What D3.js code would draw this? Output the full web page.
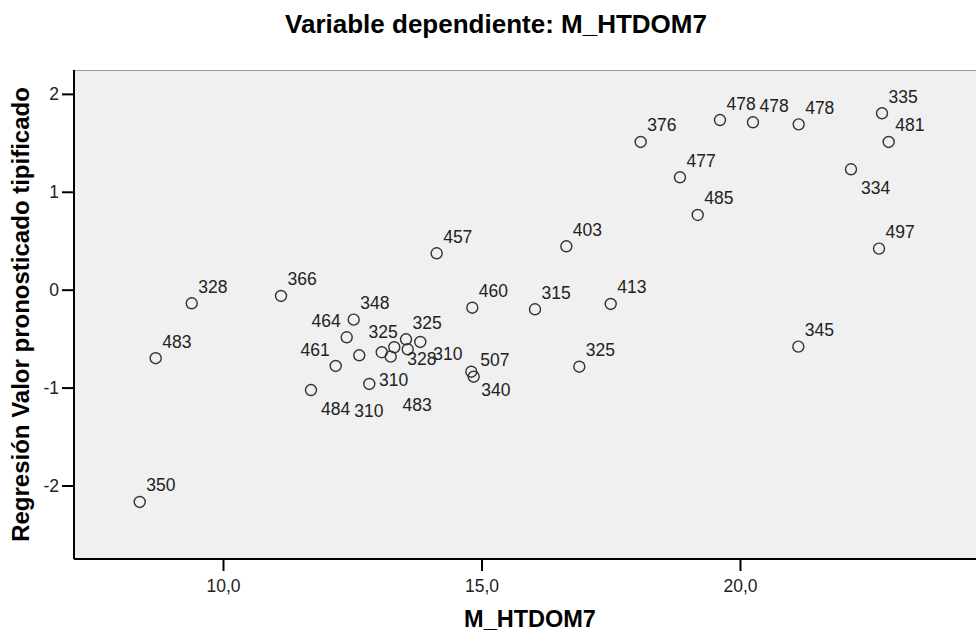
<!DOCTYPE html>
<html>
<head>
  <meta charset="utf-8">
  <script src="https://cdn.jsdelivr.net/npm/d3@7"></script>
  <style>
    body { margin: 0; background: #fff; }
    text { font-family: "Liberation Sans", Arial, sans-serif; }
  </style>
</head>
<body>
  <div id="chart"></div>
  <script type="text/javascript">
  // values
  var xValues = [9.395, 8.698, 8.389, 11.122, 11.702, 12.180, 12.393, 12.528, 14.133, 14.822,
                 16.035, 12.636, 13.070, 13.244, 13.313, 13.540, 13.573, 13.816, 12.830, 14.803,
                 14.849, 16.641, 17.499, 16.892, 18.079, 19.613, 20.251, 21.135, 22.747, 22.876,
                 22.147, 18.839, 19.182, 22.689, 21.128];
  var yValues = [-0.139, -0.700, -2.168, -0.064, -1.025, -0.779, -0.486, -0.306, 0.372, -0.184,
                 -0.200, -0.670, -0.639, -0.684, -0.588, -0.507, -0.609, -0.534, -0.963, -0.838,
                 -0.889, 0.443, -0.146, -0.787, 1.509, 1.733, 1.710, 1.689, 1.802, 1.509,
                 1.230, 1.148, 0.763, 0.419, -0.582];
  var caseLabels = ["328", "483", "350", "366", "484", "461", "464", "348", "457", "460",
                    "315", "310", "325", "310", "328", "325", "483", "310", "", "340",
                    "507", "403", "413", "325", "376", "478", "478", "478", "335", "481",
                    "334", "477", "485", "497", "345"];
  // where SPSS put each label relative to its point
  var labelSide = ["ne", "ne", "ne", "ne", "se", "nw", "nw", "ne", "ne", "ne",
                   "ne", "S", "n", "s", "e", "ne", "S", "e", "", "se",
                   "ne", "ne", "ne", "ne", "ne", "ne", "ne", "ne", "ne", "ne",
                   "se", "ne", "ne", "ne", "ne"];

  var xTicks = [10, 15, 20];
  var xTickLabels = ["10,0", "15,0", "20,0"];
  var yTicks = [-2, -1, 0, 1, 2];
  var yTickLabels = ["-2", "-1", "0", "1", "2"];

  var title = "Variable dependiente: M_HTDOM7";
  var xTitle = "M_HTDOM7";
  var yTitle = "Regresión Valor pronosticado tipificado";

  var width = 979, height = 631;
  var margin = {top: 70, right: 3, bottom: 72, left: 74};
  var w = width - margin.left - margin.right,
      h = height - margin.top - margin.bottom;

  var sides = {
    ne: {dx: 6.5, dy: -10.5, anchor: "start"},
    nw: {dx: -6, dy: -10, anchor: "end"},
    n:  {dx: 1.5, dy: -14.5, anchor: "middle"},
    s:  {dx: 3, dy: 29, anchor: "middle"},
    S:  {dx: 9.5, dy: 62, anchor: "middle"},
    e:  {dx: 13, dy: 18, anchor: "start"},
    se: {dx: 10, dy: 24.5, anchor: "start"}
  };

  var points = xValues.map(function(x, i) {
    return {x: x, y: yValues[i], label: caseLabels[i], side: labelSide[i]};
  });

  var svg = d3.select("#chart").append("svg")
      .attr("width", width)
      .attr("height", height);

  var x = d3.scaleLinear().domain([7.118, 24.565]).range([0, w]);
  var y = d3.scaleLinear().domain([-2.751, 2.244]).range([h, 0]);

  var g = svg.append("g")
      .attr("transform", "translate(" + margin.left + "," + margin.top + ")");

  g.append("rect")
      .attr("width", w)
      .attr("height", h)
      .attr("fill", "#f0f0f0");

  g.append("line")
      .attr("x1", 0).attr("x2", w)
      .attr("y1", 0.5).attr("y2", 0.5)
      .attr("stroke", "#9a9a9a");

  var xAxis = g.append("g")
      .attr("transform", "translate(0," + h + ")")
      .call(d3.axisBottom(x)
        .tickValues(xTicks)
        .tickSize(12)
        .tickPadding(9)
        .tickFormat(function(d, i) { return xTickLabels[i]; }));

  var yAxis = g.append("g")
      .call(d3.axisLeft(y)
        .tickValues(yTicks)
        .tickSize(12)
        .tickPadding(3)
        .tickFormat(function(d, i) { return yTickLabels[i]; }));

  [xAxis, yAxis].forEach(function(a) {
    a.select(".domain").attr("stroke", "#000").attr("stroke-width", 2);
    a.selectAll(".tick line").attr("stroke", "#000").attr("stroke-width", 2);
    a.selectAll(".tick text")
      .attr("fill", "#222")
      .style("font-size", "17.5px")
      .style("font-family", "'Liberation Sans', Arial, sans-serif");
  });
  xAxis.select(".domain").attr("d", "M0,0H" + w);
  yAxis.select(".domain").attr("d", "M0,0V" + h);

  g.selectAll("circle.pt")
      .data(points)
    .enter().append("circle")
      .attr("class", "pt")
      .attr("cx", function(d) { return x(d.x); })
      .attr("cy", function(d) { return y(d.y); })
      .attr("r", 5.5)
      .attr("fill", "none")
      .attr("stroke", "#333")
      .attr("stroke-width", 1.4);

  g.selectAll("text.lbl")
      .data(points.filter(function(d) { return d.label; }))
    .enter().append("text")
      .attr("class", "lbl")
      .attr("x", function(d) { return x(d.x) + sides[d.side].dx; })
      .attr("y", function(d) { return y(d.y) + sides[d.side].dy; })
      .attr("text-anchor", function(d) { return sides[d.side].anchor; })
      .attr("fill", "#222")
      .style("font-size", "17.5px")
      .text(function(d) { return d.label; });

  svg.append("text")
      .attr("x", 496)
      .attr("y", 33)
      .attr("text-anchor", "middle")
      .style("font-size", "26px")
      .style("font-weight", "bold")
      .text(title);

  svg.append("text")
      .attr("x", margin.left + w / 2 + 5)
      .attr("y", 627)
      .attr("text-anchor", "middle")
      .style("font-size", "23.5px")
      .style("font-weight", "bold")
      .text(xTitle);

  svg.append("text")
      .attr("transform", "translate(29," + (margin.top + h / 2) + ") rotate(-90)")
      .attr("text-anchor", "middle")
      .style("font-size", "24px")
      .style("font-weight", "bold")
      .text(yTitle);
  </script>
</body>
</html>
